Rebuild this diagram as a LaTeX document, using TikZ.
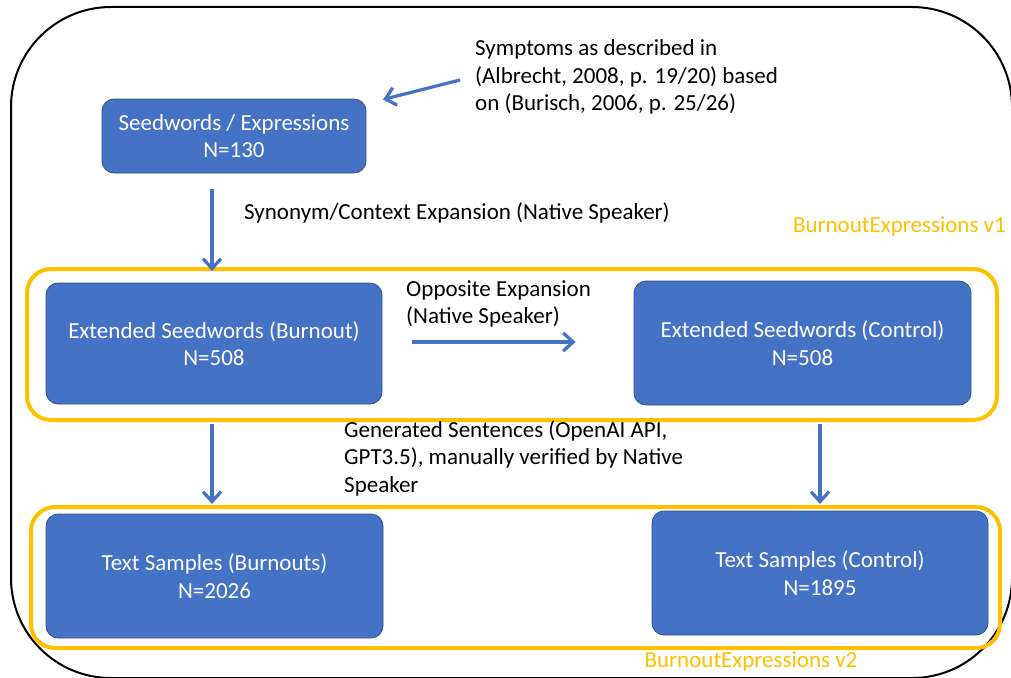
\documentclass[tikz,border=0pt]{standalone}
\usepackage{fontspec}
\setmainfont{Carlito}
\usetikzlibrary{arrows.meta,calc}
\definecolor{boxblue}{HTML}{4472C4}
\definecolor{boxedge}{HTML}{2F528F}
\definecolor{gold}{HTML}{FFC000}
\tikzset{
  bluebox/.style={draw=boxedge, line width=0.8pt, fill=boxblue, rounded corners=12pt, text=white, align=center, font=\fontsize{23}{27.5}\selectfont},
  goldbox/.style={draw=gold, line width=4pt, rounded corners=24pt},
  lbl/.style={inner sep=0pt, align=left, font=\fontsize{23}{27.5}\selectfont, anchor=west},
  goldlbl/.style={inner sep=0pt, text=gold, font=\fontsize{23}{27.5}\selectfont},
  arr/.style={draw=boxblue, line width=3.2pt, -{Straight Barb[length=10pt,width=18pt]}},
}
\begin{document}
\begin{tikzpicture}[x=1pt,y=-1pt]
\useasboundingbox (0,0) rectangle (1011,677);
\begin{scope}
\clip (0,0) rectangle (1011,677);
\draw[line width=2pt, rounded corners=100pt] (11,7) rectangle (1012,678);
\end{scope}
% gold groups
\node[goldbox, minimum width=970pt, minimum height=151pt] (v1) at (512,344.5) {};
\node[goldbox, minimum width=969pt, minimum height=141pt] (v2) at (515.5,577.5) {};
% boxes
\node[bluebox, minimum width=264pt, minimum height=74pt] (s1) at (234,136) {Seedwords / Expressions\\N=130};
\node[bluebox, minimum width=336pt, minimum height=121pt] (eb) at (214,343.5) {Extended Seedwords (Burnout)\\N=508};
\node[bluebox, minimum width=337pt, minimum height=124pt] (ec) at (802.5,343) {Extended Seedwords (Control)\\N=508};
\node[bluebox, minimum width=337pt, minimum height=124pt] (tb) at (214.5,576) {Text Samples (Burnouts)\\N=2026};
\node[bluebox, minimum width=336pt, minimum height=124pt] (tc) at (820,573) {Text Samples (Control)\\N=1895};
% labels
\node[lbl] (sym) at (475,77) {Symptoms as described in\\(Albrecht, 2008, p. 19/20) based\\on (Burisch, 2006, p. 25/26)};
\node[lbl] (syn) at (244,213) {Synonym/Context Expansion (Native Speaker)};
\node[lbl] (opp) at (406,304) {Opposite Expansion\\(Native Speaker)};
\node[lbl] (gen) at (344,458) {Generated Sentences (OpenAI API,\\GPT3.5), manually verified by Native\\Speaker};
\node[goldlbl, anchor=east] (l1) at (1006,226) {BurnoutExpressions v1};
\node[goldlbl] (l2) at (751,661) {BurnoutExpressions v2};
% connectors
\coordinate (symfrom) at (460,80);
\coordinate (symto) at (383,99.5);
\draw[arr] (symfrom) -- (symto);
\draw[arr] ([yshift=-16pt]s1.south -| 212,0) -- ([yshift=-4pt]v1.north -| 212,0);
\draw[arr, shorten <=30pt, shorten >=58pt] (eb.east |- 0,342) -- (ec.west |- 0,342);
\draw[arr, shorten <=2pt, shorten >=1pt] (v1.south -| 212,0) -- (v2.north -| 212,0);
\draw[arr, shorten <=2pt, shorten >=1pt] (v1.south -| tc) -- (v2.north -| tc);
\end{tikzpicture}
\end{document}
